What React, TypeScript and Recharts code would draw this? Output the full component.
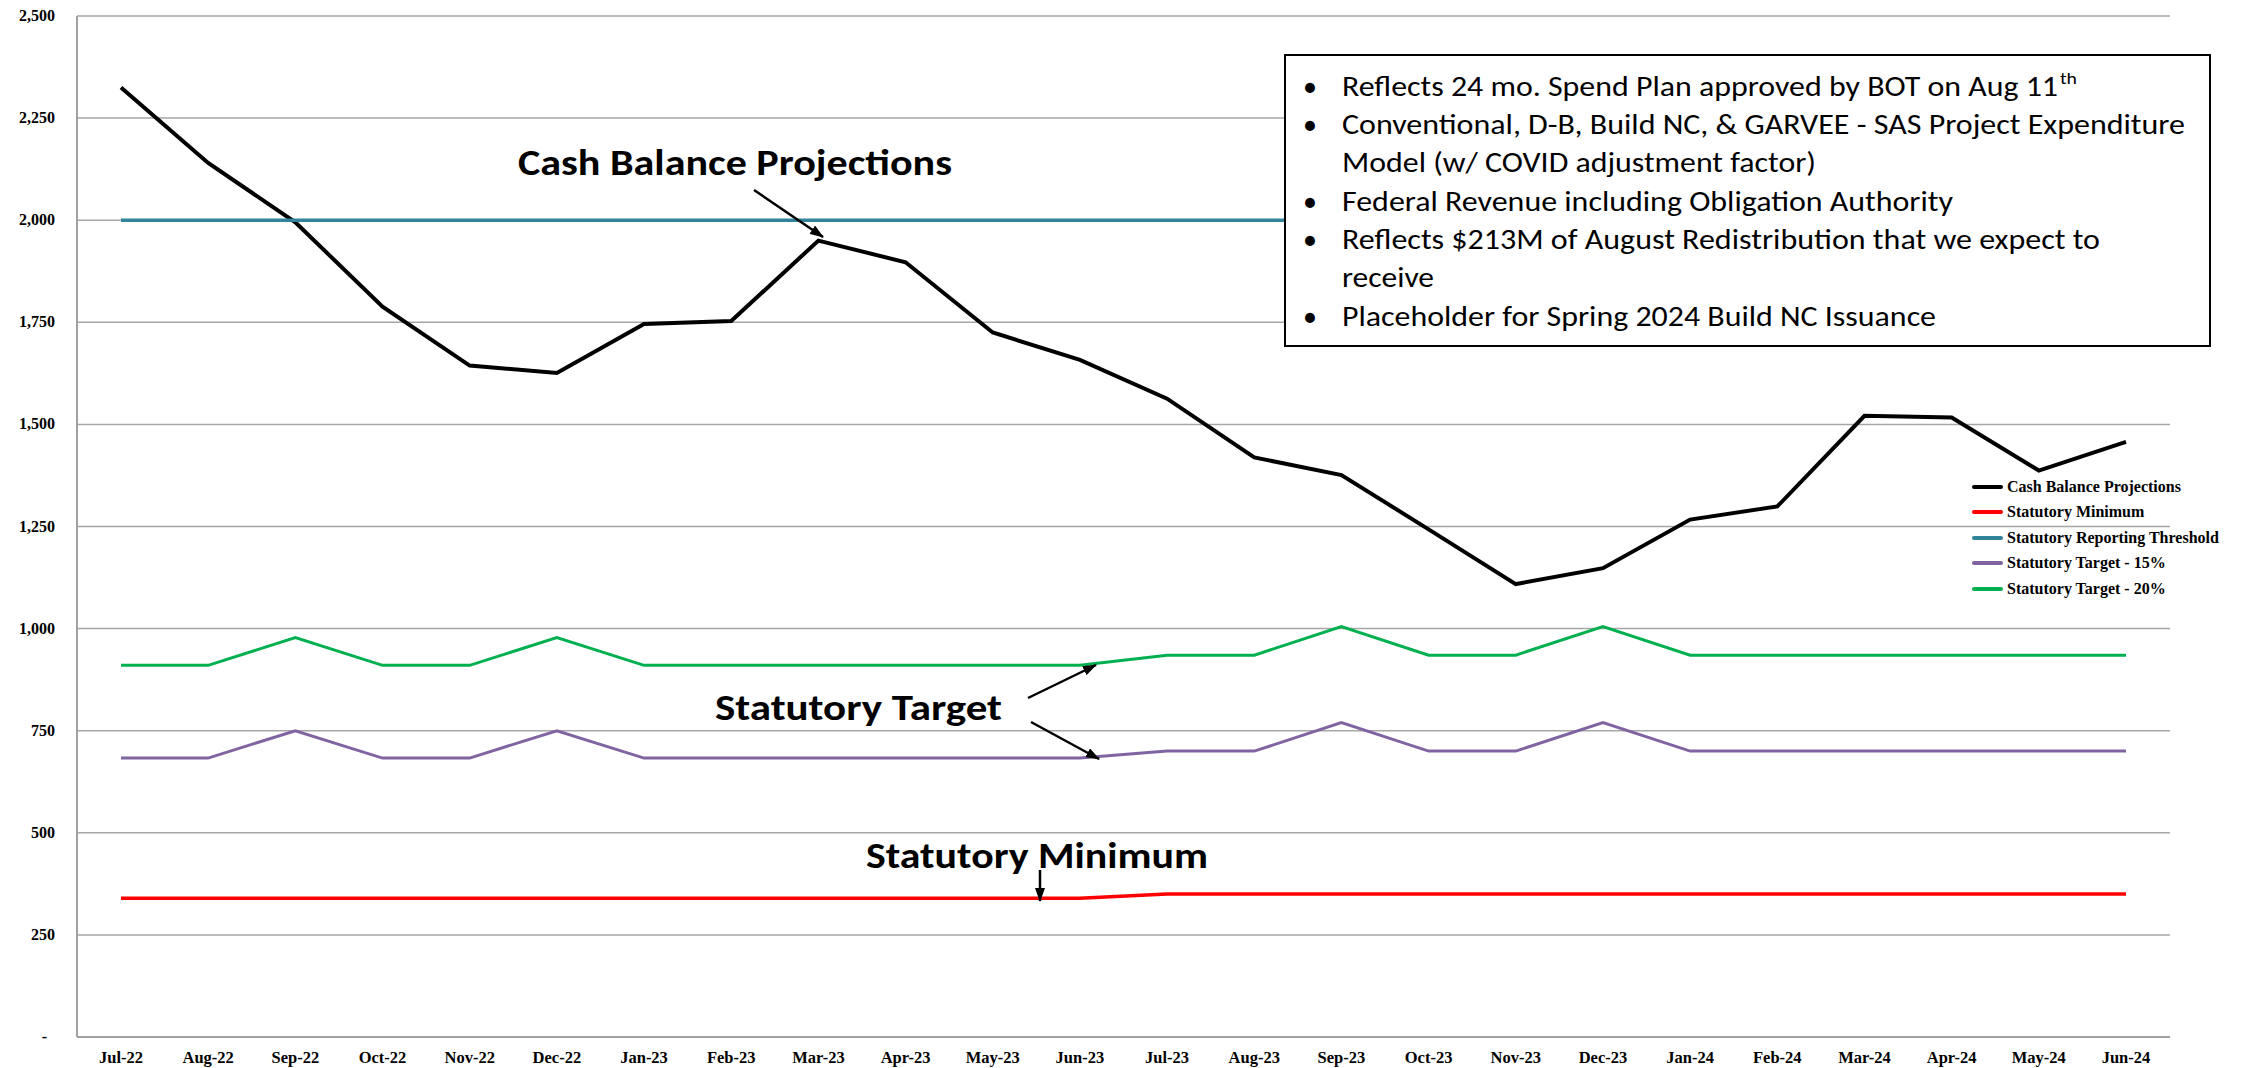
import { LineChart, Line, XAxis, YAxis, CartesianGrid, Legend } from 'recharts';

const MONTHS = [
  'Jul-22', 'Aug-22', 'Sep-22', 'Oct-22', 'Nov-22', 'Dec-22', 'Jan-23', 'Feb-23', 'Mar-23', 'Apr-23', 'May-23', 'Jun-23',
  'Jul-23', 'Aug-23', 'Sep-23', 'Oct-23', 'Nov-23', 'Dec-23', 'Jan-24', 'Feb-24', 'Mar-24', 'Apr-24', 'May-24', 'Jun-24',
];

const CASH_BALANCE = [
  2325, 2140, 1995, 1788, 1644, 1626, 1746, 1753, 1950, 1897, 1725, 1658,
  1563, 1419, 1376, 1243, 1109, 1148, 1267, 1299, 1521, 1517, 1387, 1457,
];
const STAT_MINIMUM = [
  340, 340, 340, 340, 340, 340, 340, 340, 340, 340, 340, 340,
  350, 350, 350, 350, 350, 350, 350, 350, 350, 350, 350, 350,
];
const REPORTING_THRESHOLD = [
  2000, 2000, 2000, 2000, 2000, 2000, 2000, 2000, 2000, 2000, 2000, 2000,
  2000, 2000, 2000, 2000, 2000, 2000, 2000, 2000, 2000, 2000, 2000, 2000,
];
const TARGET_15 = [
  683, 683, 750, 683, 683, 750, 683, 683, 683, 683, 683, 683,
  700, 700, 770, 700, 700, 770, 700, 700, 700, 700, 700, 700,
];
const TARGET_20 = [
  910, 910, 978, 910, 910, 978, 910, 910, 910, 910, 910, 910,
  935, 935, 1005, 935, 935, 1005, 935, 935, 935, 935, 935, 935,
];

const Y_TICKS = [0, 250, 500, 750, 1000, 1250, 1500, 1750, 2000, 2250, 2500];

const NOTES = [
  { bullet: true, text: 'Reflects 24 mo. Spend Plan approved by BOT on Aug 11', len: 716 },
  { bullet: true, text: 'Conventional, D-B, Build NC, & GARVEE - SAS Project Expenditure', len: 843 },
  { bullet: false, text: 'Model (w/ COVID adjustment factor)', len: 474 },
  { bullet: true, text: 'Federal Revenue including Obligation Authority', len: 611 },
  { bullet: true, text: 'Reflects $213M of August Redistribution that we expect to', len: 758 },
  { bullet: false, text: 'receive', len: 92 },
  { bullet: true, text: 'Placeholder for Spring 2024 Build NC Issuance', len: 594 },
];
const NOTE_BASELINES = [96, 134, 172, 211, 249, 287, 326];

const data = MONTHS.map((month, i) => ({
  month,
  cash: CASH_BALANCE[i],
  minimum: STAT_MINIMUM[i],
  threshold: REPORTING_THRESHOLD[i],
  t15: TARGET_15[i],
  t20: TARGET_20[i],
}));

const SERIF = '"Liberation Serif", "Times New Roman", serif';
const CALIBRI = 'Carlito, Calibri, "Open Sans", sans-serif';

function YTick(props: any) {
  const { x, y, payload } = props;
  const v = payload.value;
  return (
    <text x={v === 0 ? x - 8 : x} y={y} dy={5} textAnchor="end" fontFamily={SERIF} fontWeight="bold" fontSize={16} fill="#000">
      {v === 0 ? '-' : v.toLocaleString('en-US')}
    </text>
  );
}

const renderLegend = (props: any) => (
  <div style={{ display: 'flex', flexDirection: 'column' }}>
    {props.payload.map((e: any) => (
      <div key={e.value} style={{ display: 'flex', alignItems: 'center', height: 25.5 }}>
        <span style={{ width: 31, height: 4, background: e.color, marginRight: 4, borderRadius: 2 }} />
        <span style={{ fontFamily: SERIF, fontWeight: 'bold', fontSize: 16, color: '#000', whiteSpace: 'nowrap' }}>{e.value}</span>
      </div>
    ))}
  </div>
);

export default function App() {
  return (
    <div style={{ position: 'absolute', left: 0, top: 0, width: 2252, height: 1068, background: '#fff' }}>
      <LineChart width={2252} height={1068} data={data} margin={{ top: 16, right: 82, bottom: 0, left: 0 }}>
        <CartesianGrid vertical={false} stroke="#a6a6a6" strokeWidth={1.5} />
        <XAxis
          dataKey="month"
          interval={0}
          height={31}
          tickSize={0}
          tickMargin={14}
          padding={{ left: 44, right: 44 }}
          axisLine={{ stroke: '#a0a0a0', strokeWidth: 2 }}
          tick={{ fontFamily: SERIF, fontWeight: 'bold', fontSize: 16.5, fill: '#000' }}
        />
        <YAxis
          width={77}
          domain={[0, 2500]}
          ticks={Y_TICKS}
          interval={0}
          tickSize={0}
          tickMargin={22}
          axisLine={{ stroke: '#a0a0a0', strokeWidth: 2 }}
          tick={<YTick />}
        />
        <Legend
          content={renderLegend}
          layout="vertical"
          align="center"
          verticalAlign="middle"
          wrapperStyle={{ position: 'absolute', left: 1972, top: 474, width: 270 }}
        />
        <Line name="Cash Balance Projections" dataKey="cash" stroke="#000000" strokeWidth={4} dot={false} isAnimationActive={false} />
        <Line name="Statutory Minimum" dataKey="minimum" stroke="#ff0000" strokeWidth={3.5} dot={false} isAnimationActive={false} />
        <Line name="Statutory Reporting Threshold" dataKey="threshold" stroke="#31849b" strokeWidth={3.5} dot={false} isAnimationActive={false} />
        <Line name="Statutory Target - 15%" dataKey="t15" stroke="#8064a2" strokeWidth={3} dot={false} isAnimationActive={false} />
        <Line name="Statutory Target - 20%" dataKey="t20" stroke="#00b050" strokeWidth={3} dot={false} isAnimationActive={false} />
      </LineChart>

      <svg width={2252} height={1068} style={{ position: 'absolute', left: 0, top: 0, pointerEvents: 'none' }}>
        <defs>
          <marker id="ah" markerWidth={14} markerHeight={10} refX={13} refY={5} orient="auto" markerUnits="userSpaceOnUse">
            <path d="M0,0 L14,5 L0,10 z" fill="#000" />
          </marker>
        </defs>

        {/* notes box */}
        <rect x={1285} y={55} width={925} height={291} fill="#fff" stroke="#000" strokeWidth={2} />
        {NOTES.map((n, i) => (
          <g key={i}>
            {n.bullet && (
              <text x={1303} y={NOTE_BASELINES[i]} fontFamily={CALIBRI} fontSize={28} fill="#000">•</text>
            )}
            <text x={1342} y={NOTE_BASELINES[i]} fontFamily={CALIBRI} fontSize={28} fill="#000" textLength={n.len} lengthAdjust="spacingAndGlyphs">
              {n.text}
            </text>
          </g>
        ))}
        <text x={2060} y={84} fontFamily={CALIBRI} fontSize={17} fill="#000" textLength={17} lengthAdjust="spacingAndGlyphs">th</text>

        {/* annotations */}
        <text x={518} y={175} fontFamily={CALIBRI} fontWeight="bold" fontSize={36} fill="#000" textLength={434} lengthAdjust="spacingAndGlyphs">
          Cash Balance Projections
        </text>
        <line x1={754} y1={190} x2={823} y2={237} stroke="#000" strokeWidth={2.5} markerEnd="url(#ah)" />

        <text x={715} y={720} fontFamily={CALIBRI} fontWeight="bold" fontSize={36} fill="#000" textLength={287} lengthAdjust="spacingAndGlyphs">
          Statutory Target
        </text>
        <line x1={1028} y1={698} x2={1096} y2={665} stroke="#000" strokeWidth={2.5} markerEnd="url(#ah)" />
        <line x1={1031} y1={722} x2={1099} y2={759} stroke="#000" strokeWidth={2.5} markerEnd="url(#ah)" />

        <text x={866} y={868} fontFamily={CALIBRI} fontWeight="bold" fontSize={36} fill="#000" textLength={342} lengthAdjust="spacingAndGlyphs">
          Statutory Minimum
        </text>
        <line x1={1040} y1={870} x2={1040} y2={901} stroke="#000" strokeWidth={2.5} markerEnd="url(#ah)" />
      </svg>
    </div>
  );
}
